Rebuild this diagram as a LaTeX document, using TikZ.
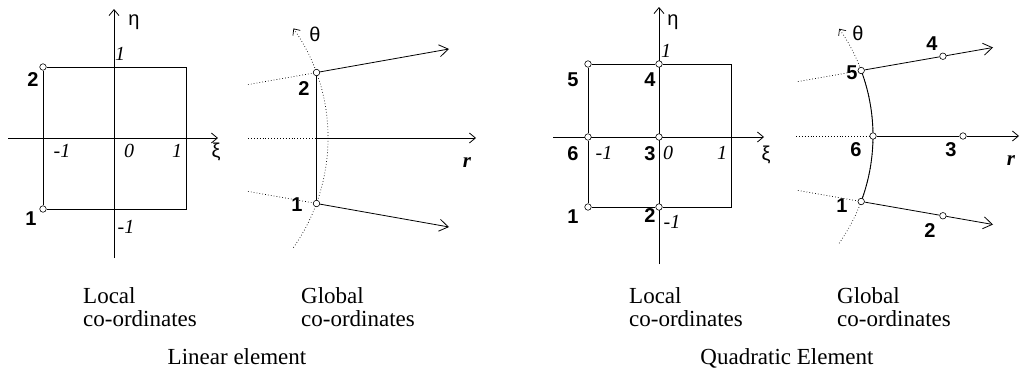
\documentclass[tikz,border=0pt]{standalone}
\usepackage{fontspec}
\setmainfont{Liberation Serif}
\newfontfamily\lblsans{Liberation Sans}
\usetikzlibrary{arrows.meta, calc, backgrounds}
\tikzset{
  axis/.style={line width=0.8pt, -{Straight Barb[length=6pt,width=10pt]}},
  edge/.style={line width=0.9pt},
  ray/.style={line width=0.8pt, -{Straight Barb[length=9pt,width=12pt]}},
  dotline/.style={line width=0.7pt, dash pattern=on 0.7pt off 2.2pt},
  arcarr/.style={dotline, -{Straight Barb[length=5pt,width=9pt]}},
  nd/.style={circle, draw, fill=white, line width=0.6pt, inner sep=0pt, minimum size=6.5pt},
  num/.style={font=\lblsans\fontsize{20}{20}\selectfont\bfseries, inner sep=0pt},
  val/.style={font=\fontsize{20}{20}\selectfont\itshape, inner sep=0pt},
  grk/.style={font=\lblsans\fontsize{20}{20}\selectfont, inner sep=0pt},
  captxt/.style={font=\fontsize{23}{23.5}\selectfont, align=left, anchor=north west, inner sep=0pt},
  ttl/.style={font=\fontsize{23}{24}\selectfont, anchor=base, inner sep=0pt},
}
\begin{document}
\begin{tikzpicture}[x=1pt, y=-1pt]
  \useasboundingbox (0,0) rectangle (1022,375);

  % linear element, local co-ordinates
  \node[nd] (A2) at (43,67) {};
  \node[nd] (A1) at (43,209) {};
  \coordinate (Atr) at (186,67);
  \coordinate (Abr) at (186,209);
  \coordinate (AxiL) at (8,138);   \coordinate (AxiR) at (218,138);
  \coordinate (AetB) at (114,258); \coordinate (AetT) at (114,9);
  \begin{scope}[on background layer]
    \draw[axis] (AxiL) -- (AxiR);
    \draw[axis] (AetB) -- (AetT);
    \draw[edge] (A2) -- (Atr) -- (Abr) -- (A1) -- (A2);
  \end{scope}
  \node[grk] (Aeta) at (134,22) {η};
  \node[grk] (Axi)  at (216,152) {ξ};
  \node[val] (Ap1t) at (120,54) {1};
  \node[val] (Am1l) at (62,151) {-1};
  \node[val] (A0)   at (129,151) {0};
  \node[val] (Ap1r) at (177,151) {1};
  \node[val] (Am1b) at (126,227) {-1};
  \node[num] (An2)  at (33,80) {2};
  \node[num] (An1)  at (31,219) {1};

  % linear element, global co-ordinates
  \coordinate (Bc) at (137,138);
  \node[nd] (B2) at (316.5,72.5) {};
  \node[nd] (B1) at (316.5,203.5) {};
  \coordinate (Bu1) at (449,49);
  \coordinate (Bl1) at (449,227);
  \coordinate (Bu0) at ($(B2)!-0.517!(Bu1)$);
  \coordinate (Bl0) at ($(B1)!-0.517!(Bl1)$);
  \coordinate (Br0) at (248,138);
  \coordinate (Brm) at (316.5,138);
  \coordinate (Br1) at (476,138);
  \begin{scope}[on background layer]
    \draw[dotline] (Br0) -- (Brm);
    \draw[axis] (Brm) -- (Br1);
    \draw[dotline] (Bu0) -- (B2);
    \draw[dotline] (Bl0) -- (B1);
    \draw[ray] (B2) -- (Bu1);
    \draw[ray] (B1) -- (Bl1);
    \draw[edge] (B2) -- (B1);
    \draw[arcarr] ([shift={(35:191)}]Bc) arc[start angle=-35, end angle=35, radius=191pt];
  \end{scope}
  \node[grk] (Bth) at (315,34) {θ};
  \node[val, font=\fontsize{21}{21}\selectfont\bfseries\itshape] (Br) at (467,163) {r};
  \node[num] (Bn2) at (304,89) {2};
  \node[num] (Bn1) at (297,205) {1};

  % quadratic element, local co-ordinates
  \node[nd] (C1) at (588,207) {};
  \node[nd] (C2) at (659,207) {};
  \node[nd] (C3) at (659,137) {};
  \node[nd] (C4) at (659,64) {};
  \node[nd] (C5) at (588,64) {};
  \node[nd] (C6) at (588,137) {};
  \coordinate (Ctr) at (731,64);
  \coordinate (Cbr) at (731,207);
  \coordinate (CxiL) at (553,137);  \coordinate (CxiR) at (764,137);
  \coordinate (CetB) at (659,264); \coordinate (CetT) at (659,7);
  \begin{scope}[on background layer]
    \draw[axis] (CxiL) -- (CxiR);
    \draw[axis] (CetB) -- (CetT);
    \draw[edge] (C5) -- (C4) -- (Ctr) -- (Cbr) -- (C2) -- (C1) -- (C6) -- (C5);
  \end{scope}
  \node[grk] (Ceta) at (673,22) {η};
  \node[grk] (Cxi)  at (766,155) {ξ};
  \node[val] (Cp1t) at (666,51) {1};
  \node[val] (Cm1l) at (604,153) {-1};
  \node[val] (C0)   at (668,153) {0};
  \node[val] (Cp1r) at (722,153) {1};
  \node[val] (Cm1b) at (672,222) {-1};
  \node[num] (Cn5) at (573,80) {5};
  \node[num] (Cn4) at (650,80) {4};
  \node[num] (Cn6) at (573,154) {6};
  \node[num] (Cn3) at (650,154) {3};
  \node[num] (Cn1) at (573,217) {1};
  \node[num] (Cn2) at (650,216) {2};

  % quadratic element, global co-ordinates
  \coordinate (Dc) at (686,136);
  \node[nd] (D5) at (861.2,70.5) {};
  \node[nd] (D6) at (873,136) {};
  \node[nd] (D1) at (861.2,201.5) {};
  \coordinate (Du1) at (993,47.5);
  \coordinate (Dl1) at (993,224.5);
  \node[nd] (D4) at ($(D5)!0.62!(Du1)$) {};
  \node[nd] (D2) at ($(D1)!0.62!(Dl1)$) {};
  \node[nd] (D3) at (963,136) {};
  \coordinate (Du0) at ($(D5)!-0.48!(Du1)$);
  \coordinate (Dl0) at ($(D1)!-0.48!(Dl1)$);
  \coordinate (Dr0) at (796,136);
  \coordinate (Dr1) at (1019,136);
  \begin{scope}[on background layer]
    \draw[dotline] (Dr0) -- (D6);
    \draw[axis] (D6) -- (D3) -- (Dr1);
    \draw[dotline] (Du0) -- (D5);
    \draw[dotline] (Dl0) -- (D1);
    \draw[ray] (D5) -- (D4) -- (Du1);
    \draw[ray] (D1) -- (D2) -- (Dl1);
    \draw[arcarr] ([shift={(35:187)}]Dc) arc[start angle=-35, end angle=35, radius=187pt];
    \draw[edge] ([shift={(20.5:187)}]Dc) arc[start angle=-20.5, end angle=20.5, radius=187pt];
  \end{scope}
  \node[grk] (Dth) at (858,33) {θ};
  \node[val, font=\fontsize{21}{21}\selectfont\bfseries\itshape] (Dr) at (1011,161) {r};
  \node[num] (Dn5) at (852,73) {5};
  \node[num] (Dn4) at (932,44) {4};
  \node[num] (Dn6) at (856,150) {6};
  \node[num] (Dn3) at (951,150) {3};
  \node[num] (Dn1) at (842,206) {1};
  \node[num] (Dn2) at (930,231) {2};

  % captions
  \node[captxt] (capAl) at (83,287) {Local\\co-ordinates};
  \node[captxt] (capAg) at (301,287) {Global\\co-ordinates};
  \node[captxt] (capCl) at (629,287) {Local\\co-ordinates};
  \node[captxt] (capCg) at (837,287) {Global\\co-ordinates};
  \node[ttl] (ttlA) at (237,364) {Linear element};
  \node[ttl] (ttlC) at (787,364) {Quadratic Element};
\end{tikzpicture}
\end{document}
